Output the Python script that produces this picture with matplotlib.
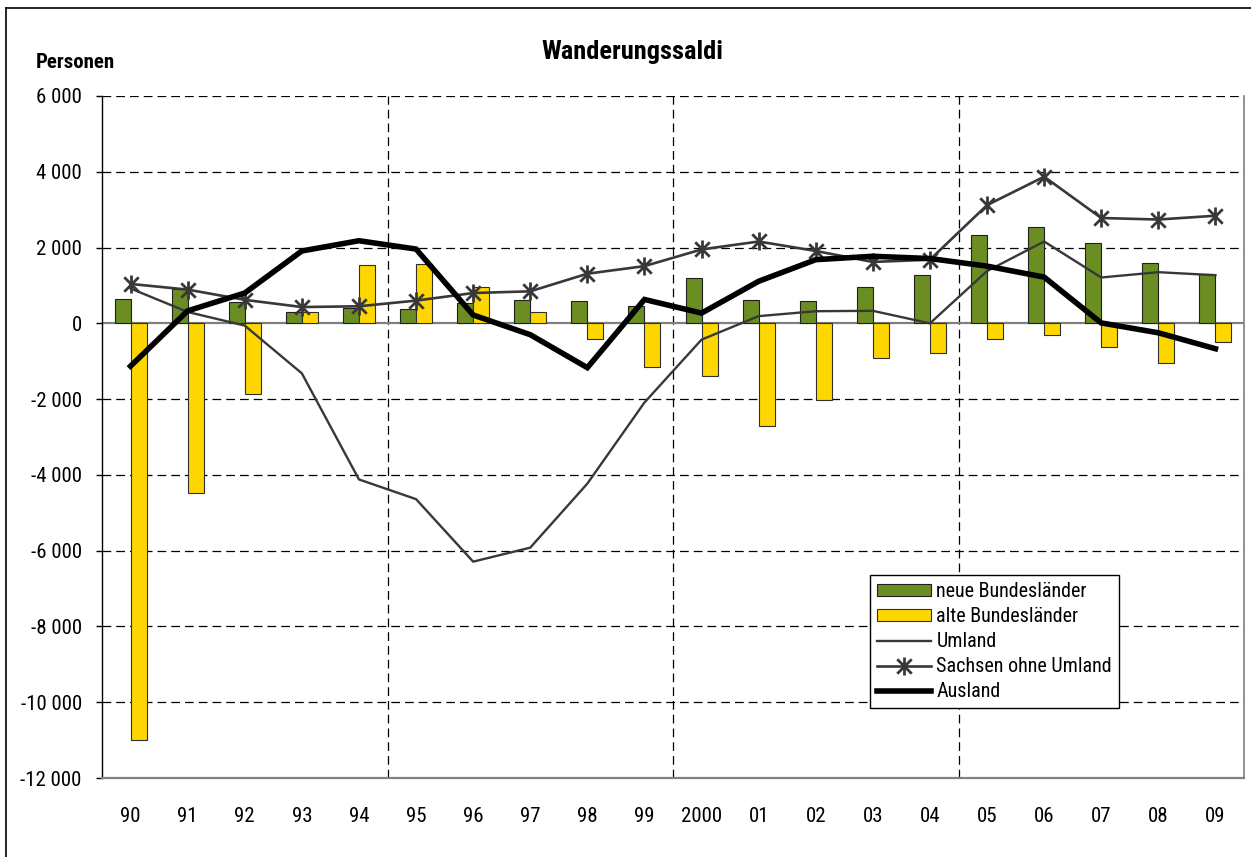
import matplotlib
matplotlib.use("Agg")
import matplotlib.pyplot as plt
from matplotlib.path import Path
from matplotlib.lines import Line2D
from matplotlib.ticker import FuncFormatter
import numpy as np

FONT = ['Roboto Condensed', 'Liberation Sans', 'DejaVu Sans']
plt.rcParams['font.family'] = FONT

years = ['90', '91', '92', '93', '94', '95', '96', '97', '98', '99',
         '2000', '01', '02', '03', '04', '05', '06', '07', '08', '09']
neue = [650, 910, 550, 310, 400, 390, 540, 620, 580, 470,
        1190, 620, 580, 950, 1270, 2340, 2530, 2110, 1590, 1290]
alte = [-11010, -4470, -1860, 300, 1540, 1570, 960, 310, -420, -1150,
        -1380, -2700, -2030, -910, -770, -410, -320, -630, -1040, -500]
umland = [920, 300, -60, -1320, -4120, -4640, -6290, -5920, -4230, -2090,
          -430, 190, 320, 330, 0, 1380, 2160, 1210, 1350, 1270]
sachsen = [1040, 890, 620, 430, 450, 600, 800, 845, 1310, 1510,
           1950, 2160, 1910, 1620, 1680, 3120, 3870, 2780, 2740, 2840]
ausland = [-1130, 330, 800, 1910, 2180, 1960, 220, -300, -1170, 630,
           270, 1110, 1680, 1770, 1710, 1510, 1220, 10, -250, -670]

W, H = 1251, 857
fig = plt.figure(figsize=(W / 100, H / 100), dpi=100)
ax = fig.add_axes([102 / W, 1 - 778 / H, (1244 - 102) / W, (778 - 96) / H])

x = np.arange(len(years))
bw = 0.28
green = '#6B8E23'
yellow = '#FFD700'
gray = '#383838'

b1 = ax.bar(x - bw / 2, neue, width=bw, color=green, edgecolor='#202020', linewidth=0.8, zorder=3,
            label='neue Bundesländer')
b2 = ax.bar(x + bw / 2, alte, width=bw, color=yellow, edgecolor='#303030', linewidth=0.8, zorder=3,
            label='alte Bundesländer')

l1, = ax.plot(x, umland, color=gray, linewidth=1.7, zorder=4, label='Umland')

star = Path([(-1, -1), (1, 1), (-1, 1), (1, -1), (0, -1.25), (0, 1.25)],
            [Path.MOVETO, Path.LINETO, Path.MOVETO, Path.LINETO, Path.MOVETO, Path.LINETO])
l2, = ax.plot(x, sachsen, color=gray, linewidth=1.9, marker=star, markersize=13,
              markeredgewidth=2.0, markerfacecolor='none', markeredgecolor=gray, zorder=5,
              label='Sachsen ohne Umland')
l3, = ax.plot(x, ausland, color='black', linewidth=4, zorder=6, solid_joinstyle='miter',
              label='Ausland')

ax.set_xlim(-0.5, len(years) - 0.5)
ax.set_ylim(-12000, 6000)
ax.set_yticks(np.arange(-12000, 6001, 2000))
ax.yaxis.set_major_formatter(FuncFormatter(lambda v, p: f"{int(v):,}".replace(',', ' ')))
ax.set_xticks(x)
ax.set_xticklabels(years)

for yv in range(-10000, 6001, 2000):
    if yv == 0:
        continue
    ax.axhline(yv, color='black', linewidth=0.9, linestyle=(0, (7, 4)), zorder=1)
ax.axhline(0, color='#808080', linewidth=1.6, zorder=2)
for xv in [4.5, 9.5, 14.5]:
    ax.axvline(xv, color='black', linewidth=0.9, linestyle=(0, (7, 4)), zorder=1)

ax.spines['top'].set_visible(False)
ax.spines['left'].set_color('black')
ax.spines['left'].set_linewidth(1.0)
ax.spines['bottom'].set_color('#808080')
ax.spines['bottom'].set_linewidth(1.6)
ax.spines['right'].set_color('#808080')
ax.spines['right'].set_linewidth(1.2)

ax.tick_params(axis='y', length=4.5, width=1, direction='out', pad=10, labelsize=15, colors='black')
ax.tick_params(axis='x', length=0, pad=21, labelsize=15)

fig.text(632 / W, 1 - 52 / H, 'Wanderungssaldi', ha='center', va='center',
         fontsize=19, fontweight='bold')
fig.text(36 / W, 1 - 62 / H, 'Personen', ha='left', va='center',
         fontsize=15, fontweight='bold')

# outer frame
fig.add_artist(Line2D([6 / W, 6 / W], [0, 1 - 8 / H], color='black', linewidth=1.2))
fig.add_artist(Line2D([6 / W, 1], [1 - 8 / H, 1 - 8 / H], color='black', linewidth=1.2))

leg = ax.legend([b1, b2, l1, l2, l3],
                ['neue Bundesländer', 'alte Bundesländer', 'Umland', 'Sachsen ohne Umland', 'Ausland'],
                loc='upper left', bbox_to_anchor=(870 / W, 1 - 575 / H),
                bbox_transform=fig.transFigure, frameon=True, fancybox=False,
                edgecolor='black', framealpha=1, fontsize=14.5, handlelength=2.7,
                handleheight=0.5, handletextpad=0.25, labelspacing=0.3, borderpad=0.35,
                borderaxespad=0)
leg.get_frame().set_linewidth(1.0)
leg.set_zorder(10)

fig.savefig('out.png', dpi=100)
